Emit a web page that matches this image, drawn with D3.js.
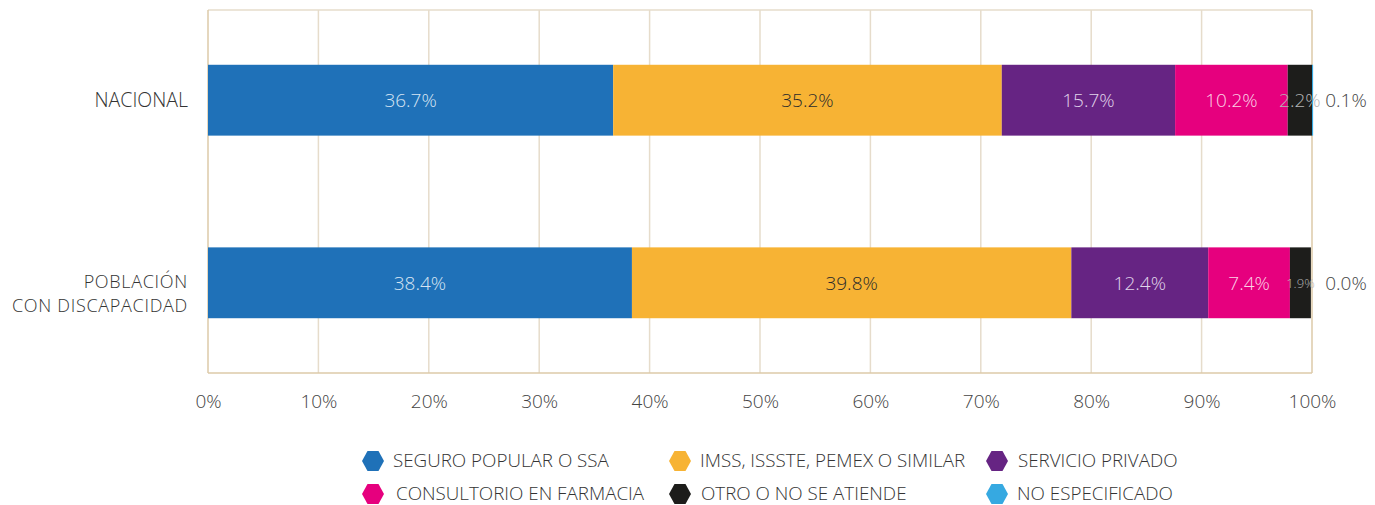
<!DOCTYPE html>
<html>
<head>
<meta charset="utf-8">
<script src="https://cdn.jsdelivr.net/npm/d3@7"></script>
<style>
  body { margin: 0; background: #fff; }
  text { font-family: "Open Sans", sans-serif; font-weight: 300; }
</style>
</head>
<body>
<svg id="chart" width="1375" height="505"></svg>
<script>
// categories and series
let categories = ["NACIONAL", "POBLACIÓN\nCON DISCAPACIDAD"];
let seriesNames = ["SEGURO POPULAR O SSA", "IMSS, ISSSTE, PEMEX O SIMILAR", "SERVICIO PRIVADO",
                   "CONSULTORIO EN FARMACIA", "OTRO O NO SE ATIENDE", "NO ESPECIFICADO"];
let nacional = [36.7, 35.2, 15.7, 10.2, 2.2, 0.1];
let poblacion = [38.4, 39.8, 12.4, 7.4, 1.9, 0.0];
let tickValues = [0, 10, 20, 30, 40, 50, 60, 70, 80, 90, 100];

let colors = ["#1f71b8", "#f7b334", "#662483", "#e6007e", "#1d1d1b", "#36a9e1"];
let labelColors = ["#d6e4f3", "#2b2b2b", "#e0d4ea", "#fbd3e6", "#b5b5b5", "#444"];

let svg = d3.select("#chart");
let margin = { top: 10, right: 63, bottom: 132, left: 208 };
let width = 1375 - margin.left - margin.right;
let height = 505 - margin.top - margin.bottom;

let g = svg.append("g").attr("transform", "translate(" + margin.left + "," + margin.top + ")");

let x = d3.scaleLinear().domain([0, 100]).range([0, width]);
let y = d3.scaleBand().domain(categories).range([0, height])
  .paddingInner(0.612).paddingOuter(0.3);

//gridlines
g.selectAll(".grid").data(tickValues.slice(1, -1)).enter().append("line")
  .attr("x1", d => x(d)).attr("x2", d => x(d))
  .attr("y1", 0).attr("y2", height)
  .attr("stroke", "#e6dccb").attr("stroke-width", 1.5);

//frame: top, left, right, bottom
g.append("line").attr("x1", 0).attr("x2", width).attr("y1", 0).attr("y2", 0)
  .attr("stroke", "#e6dccb").attr("stroke-width", 1.5);
g.append("line").attr("x1", x(100)).attr("x2", x(100)).attr("y1", 0).attr("y2", height)
  .attr("stroke", "#dccaa9").attr("stroke-width", 1.5);
g.append("line").attr("x1", 0).attr("x2", 0).attr("y1", 0).attr("y2", height)
  .attr("stroke", "#dccaa9").attr("stroke-width", 1.5);
g.append("line").attr("x1", 0).attr("x2", width).attr("y1", height).attr("y2", height)
  .attr("stroke", "#dccaa9").attr("stroke-width", 1.5);

//x axis labels
let xAxis = g.append("g")
  .attr("transform", "translate(0," + height + ")")
  .call(d3.axisBottom(x).tickValues(tickValues).tickFormat(d => d + "%").tickSize(0).tickPadding(22));
xAxis.select(".domain").remove();
xAxis.selectAll("text").attr("fill", "#444").style("font-size", "19px")
  .style("font-family", "'Open Sans', sans-serif").style("font-weight", 300);

//category labels, one text per line
categories.forEach(function(c) {
  let lines = c.split("\n");
  let cy = y(c) + y.bandwidth() / 2;
  let startY = lines.length == 1 ? cy + 7 : cy + 5;
  lines.forEach(function(l, i) {
    g.append("text")
      .attr("x", -20)
      .attr("y", startY + i * 24)
      .attr("text-anchor", "end")
      .attr("fill", "#333")
      .style("font-size", lines.length == 1 ? "19.5px" : "18px")
      .style("letter-spacing", lines.length == 1 ? "0px" : "0.7px")
      .text(l);
  });
});

//stacked bars
let rows = [nacional, poblacion];
rows.forEach(function(vals, r) {
  let cat = categories[r];
  let cum = 0;
  vals.forEach(function(v, i) {
    let x0 = cum;
    cum += v;
    g.append("rect")
      .attr("x", x(x0))
      .attr("y", y(cat))
      .attr("width", Math.max(0, Math.min(x(cum), x(100) + 1.5) - x(x0)))
      .attr("height", y.bandwidth())
      .attr("fill", colors[i]);
    let isLast = i == vals.length - 1;
    let small = v < 2;
    g.append("text")
      .attr("x", isLast ? x(100) + 34 : x(x0 + v / 2))
      .attr("y", y(cat) + y.bandwidth() / 2 + (small && !isLast ? 5 : 7))
      .attr("text-anchor", "middle")
      .attr("fill", labelColors[i])
      .style("font-size", small && !isLast ? "13px" : "19px")
      .text(v.toFixed(1) + "%");
  });
});

//legend
let legendX = [373, 680, 997];
let legendY = [461, 494];
let textOffset = [[20, 20, 21], [23, 21, 20]];
let hex = function(cx, cy) {
  let w = 11, h = 10;
  return [[cx - w, cy], [cx - w / 2, cy - h], [cx + w / 2, cy - h], [cx + w, cy], [cx + w / 2, cy + h], [cx - w / 2, cy + h]];
};
seriesNames.forEach(function(name, i) {
  let row = Math.floor(i / 3), col = i % 3;
  let cx = legendX[col], cy = legendY[row];
  svg.append("polygon")
    .attr("points", hex(cx, cy).map(p => p.join(",")).join(" "))
    .attr("fill", colors[i]);
  svg.append("text")
    .attr("x", cx + textOffset[row][col])
    .attr("y", cy + 6)
    .attr("fill", "#333")
    .style("font-size", "18.8px")
    .text(name);
});
</script>
</body>
</html>
